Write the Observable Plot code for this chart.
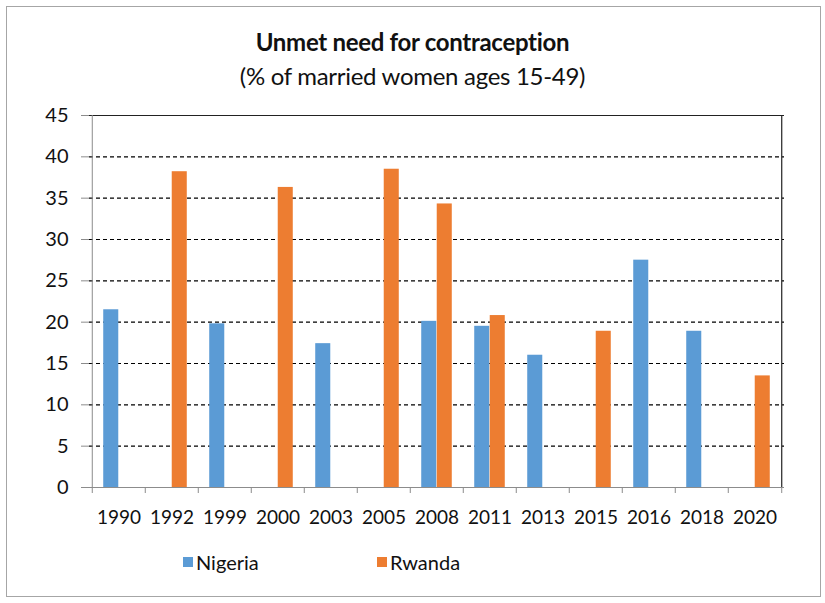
<!DOCTYPE html>
<html>
<head>
<meta charset="utf-8">
<script src="https://cdn.jsdelivr.net/npm/d3@7"></script>
<script src="https://cdn.jsdelivr.net/npm/@observablehq/plot@0.6"></script>
<style>
  html, body { margin: 0; padding: 0; background: #fff; }
  #wrap { position: relative; width: 825px; height: 603px; overflow: hidden; font-family: Lato, "Open Sans", sans-serif; color: #111; }
  #border { position: absolute; left: 6px; top: 6px; width: 815px; height: 591px; border: 1px solid #a6a6a6; box-sizing: border-box; }
  #title { position: absolute; left: 0; width: 825px; top: 27px; text-align: center; font-weight: bold; font-size: 24px; letter-spacing: -0.3px; line-height: 30px; }
  #subtitle { position: absolute; left: 0; width: 825px; top: 61px; text-align: center; font-size: 24px; letter-spacing: -0.3px; line-height: 30px; }
  #chart { position: absolute; left: 0; top: 100px; }
  .leg { position: absolute; top: 549px; font-size: 20px; display: flex; align-items: center; line-height: 26px; }
  .sw { width: 10px; height: 10px; display: inline-block; margin-right: 3px; }
</style>
</head>
<body>
<div id="wrap">
  <div id="border"></div>
  <div id="title">Unmet need for contraception</div>
  <div id="subtitle">(% of married women ages 15-49)</div>
  <div id="chart"></div>
  <div class="leg" style="left:183px"><span class="sw" style="background:#5B9BD5"></span>Nigeria</div>
  <div class="leg" style="left:377px"><span class="sw" style="background:#ED7D31"></span>Rwanda</div>
</div>
<script>
const years = ["1990","1992","1999","2000","2003","2005","2008","2011","2013","2015","2016","2018","2020"];
const nigeria = [21.5, null, 19.8, null, 17.4, null, 20.1, 19.5, 16.0, null, 27.5, 18.9, null];
const rwanda  = [null, 38.2, null, 36.3, null, 38.5, 34.3, 20.8, null, 18.9, null, null, 13.5];
const series = ["Nigeria", "Rwanda"];
const colors = ["#5B9BD5", "#ED7D31"];
const yTicks = [0, 5, 10, 15, 20, 25, 30, 35, 40, 45];

const rows = [];
years.forEach((y, i) => {
  if (nigeria[i] != null) rows.push({year: y, series: "Nigeria", value: nigeria[i]});
  if (rwanda[i] != null) rows.push({year: y, series: "Rwanda", value: rwanda[i]});
});

const W = 825, H = 440, ML = 89, MR = 41, MT = 15, MB = 53;
const bw = (W - ML - MR) / years.length;
const barW = 15.5;
const outer = (bw - 2 * barW) / 2;
const first = years[0], last = years[years.length - 1];

const chart = Plot.plot({
  width: W, height: H,
  marginLeft: ML, marginRight: MR, marginTop: MT, marginBottom: MB,
  style: {fontFamily: "Lato, 'Open Sans', sans-serif", fontSize: "19px", color: "#111", background: "transparent"},
  x: {domain: years, padding: 0, label: null},
  y: {domain: [0, 45], label: null},
  color: {domain: series, range: colors},
  marks: [
    Plot.ruleY(yTicks.filter(t => t > 0 && t < 45), {stroke: "#000", strokeWidth: 1.1, strokeDasharray: "4,3"}),
    Plot.barY(rows.filter(d => d.series === "Nigeria"), {x: "year", y: "value", fill: "#5B9BD5", insetLeft: outer, insetRight: outer + barW}),
    Plot.barY(rows.filter(d => d.series === "Rwanda"), {x: "year", y: "value", fill: "#ED7D31", insetLeft: outer + barW, insetRight: outer}),
    Plot.ruleY([45], {stroke: "#222", strokeWidth: 1.2}),
    Plot.ruleX([last], {x: d => d, y1: 0, y2: 45, dx: bw / 2, stroke: "#222", strokeWidth: 1.2}),
    Plot.ruleX([first], {x: d => d, y1: 0, y2: 45, dx: -bw / 2, stroke: "#8c8c8c", strokeWidth: 1}),
    Plot.ruleY([0], {stroke: "#8c8c8c", strokeWidth: 1}),
    Plot.axisY({ticks: yTicks, tickSize: 8, tickPadding: 13, stroke: "#8c8c8c", fill: "#111", fontSize: 20}),
    Plot.axisX({ticks: years, tickSize: 0, tickPadding: 23, fill: "#111", fontSize: 19}),
    Plot.axisX({ticks: years, tickSize: 6, dx: -bw / 2, text: null, stroke: "#8c8c8c"}),
    Plot.axisX({ticks: [last], tickSize: 6, dx: bw / 2, text: null, stroke: "#8c8c8c"})
  ]
});
document.getElementById("chart").appendChild(chart);
</script>
</body>
</html>
